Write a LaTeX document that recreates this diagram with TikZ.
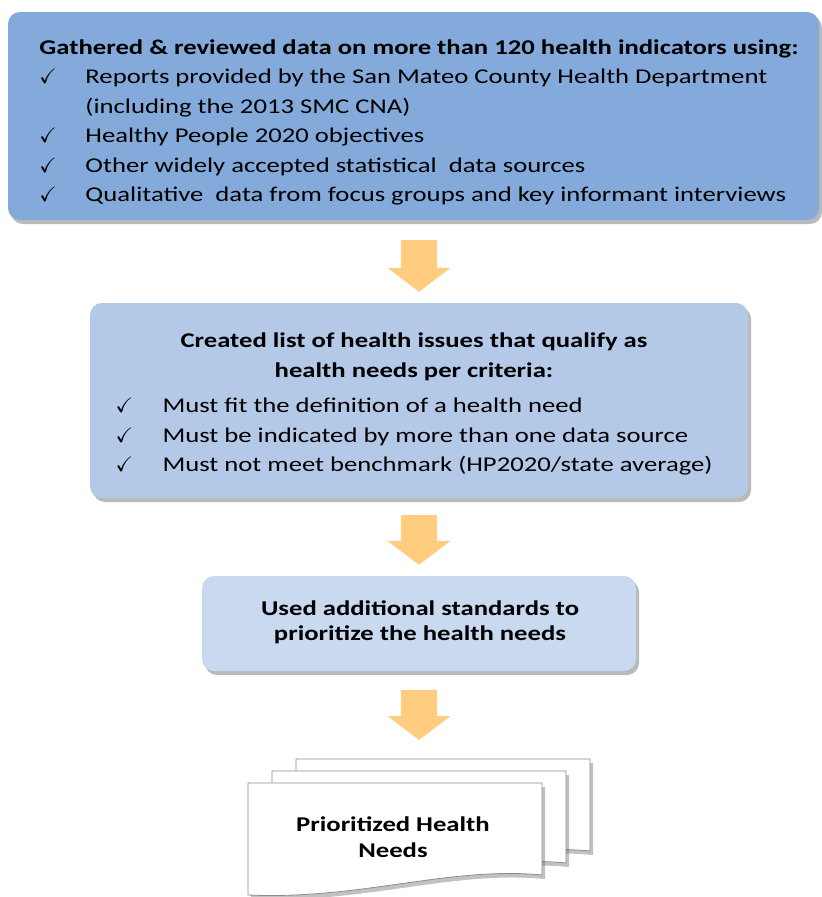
\documentclass[tikz,border=0pt]{standalone}
\usepackage{fontspec}
\setmainfont{Carlito}[FakeStretch=1.27]
\usepackage{amssymb}
\usetikzlibrary{shadows,arrows.meta}

\definecolor{stepone}{RGB}{131,170,218}
\definecolor{steptwo}{RGB}{180,201,232}
\definecolor{stepthree}{RGB}{201,217,240}
\definecolor{flowfill}{RGB}{255,204,128}
\definecolor{docline}{RGB}{140,140,140}

\newcommand{\chk}{$\checkmark$}

\begin{document}
\begin{tikzpicture}[x=1pt,y=-1pt]
	\tikzset{stepbox/.style={rounded corners=12pt,inner sep=0pt,
			drop shadow={shadow xshift=3pt,shadow yshift=-4pt,opacity=0.45,fill=black!60}}}
	\tikzset{listtext/.style={inner sep=0pt,font=\fontsize{21}{29.5}\selectfont}}
	\tikzset{flow/.style={line width=36pt,draw=flowfill,-{Triangle[width=62pt,length=24pt]}}}
	\tikzset{docpage/.style={draw=docline,fill=white,line width=0.8pt,
			drop shadow={shadow xshift=3pt,shadow yshift=-4pt,opacity=0.4,fill=black!60}}}

	\useasboundingbox (0,0) rectangle (822,897);

	%% step boxes
	\node[stepbox,fill=stepone,minimum width=811pt,minimum height=208pt] (gather) at (413.5,116) {};
	\node[stepbox,fill=steptwo,minimum width=658pt,minimum height=195pt] (criteria) at (419,400.5) {};
	\node[stepbox,fill=stepthree,minimum width=434pt,minimum height=95pt] (prio) at (419,623.5) {};

	\node[listtext] (gatherlist) at (419,122) {%
		\begin{tabular}{@{}p{46pt}@{}l@{}}
		\multicolumn{2}{@{}l@{}}{\bfseries Gathered \& reviewed data on more than 120 health indicators using:}\\
		\chk & Reports provided by the San Mateo County Health Department\\
		     & (including the 2013 SMC CNA)\\
		\chk & Healthy People 2020 objectives\\
		\chk & Other widely accepted statistical\ \ data sources\\
		\chk & Qualitative\ \ data from focus groups and key informant interviews
		\end{tabular}};

	\node[listtext] (criterialist) at (414,404) {%
		\begin{tabular}{@{}p{47pt}@{}l@{}}
		\multicolumn{2}{c}{\bfseries Created list of health issues that qualify as}\\
		\multicolumn{2}{c}{\bfseries health needs per criteria:}\\[6pt]
		\chk & Must fit the definition of a health need\\
		\chk & Must be indicated by more than one data source\\
		\chk & Must not meet benchmark (HP2020/state average)
		\end{tabular}};

	\node[listtext,align=center,font=\fontsize{21}{25}\selectfont\bfseries] (priotext) at (420,622) {Used additional standards to\\prioritize the health needs};

	%% document stack
	\foreach \dx/\dy in {48/-24,24/-12,0/0}
		\draw[docpage,shift={(\dx,\dy)}] (248,783) -- (542,783) -- (542,875)
			.. controls (450,866) and (360,900) .. (248,895) -- cycle;
	\coordinate (stacktop) at (419,759);
	\node[listtext,align=center,font=\fontsize{21}{26}\selectfont\bfseries] (needs) at (393,837) {Prioritized Health\\Needs};

	%% arrows between steps
	\draw[flow,shorten <=20pt,shorten >=11pt] (criteria.north |- gather.south) -- (criteria.north);
	\draw[flow,shorten <=17pt,shorten >=11pt] (criteria.south) -- (prio.north);
	\draw[flow,shorten <=19pt,shorten >=19pt] (prio.south) -- (stacktop);
\end{tikzpicture}
\end{document}
